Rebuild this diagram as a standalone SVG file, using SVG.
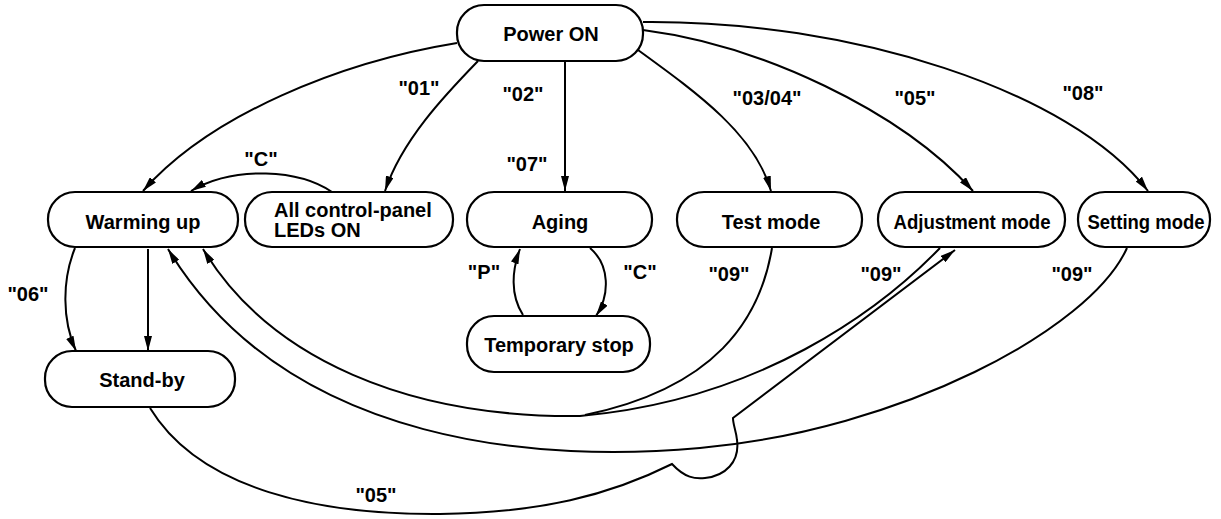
<svg xmlns="http://www.w3.org/2000/svg" width="1221" height="519" viewBox="0 0 1221 519">
<style>
.node rect{fill:#fff;stroke:#000;stroke-width:2.2}
.t{font-family:"Liberation Sans",Arial,sans-serif;font-weight:bold;font-size:20px;text-anchor:middle;fill:#000}
.l{font-family:"Liberation Sans",Arial,sans-serif;font-weight:bold;font-size:20px;text-anchor:middle;fill:#000}
#connectors path{fill:none;stroke:#000;stroke-width:2}
</style>
<defs>
<marker id="ah" viewBox="0 0 15 8" refX="15" refY="4" markerWidth="15" markerHeight="8" orient="auto" markerUnits="userSpaceOnUse"><path d="M0,0 L15,4 L0,8 z" fill="#000"/></marker>
</defs>
<rect width="1221" height="519" fill="#fff"/>
<g id="connectors">
<path d="M457 43 C340 62 210 115 143 191" marker-end="url(#ah)"/>
<path d="M478 61 C445 95 402 140 385 191" marker-end="url(#ah)"/>
<path d="M565 61 L565 191" marker-end="url(#ah)"/>
<path d="M638 50 C700 95 755 135 771 191" marker-end="url(#ah)"/>
<path d="M643 30 C760 45 900 110 973 191" marker-end="url(#ah)"/>
<path d="M643 22 C850 20 1070 90 1148 191" marker-end="url(#ah)"/>
<path d="M332 192 C300 170 235 165 191 191" marker-end="url(#ah)"/>
<path d="M148 249 L148 351" marker-end="url(#ah)"/>
<path d="M75 248 C62 280 62 320 76 351" marker-end="url(#ah)"/>
<path d="M523 315 C510 295 512 270 520 249" marker-end="url(#ah)"/>
<path d="M590 248 C610 265 610 295 596 316" marker-end="url(#ah)"/>
<path d="M772 248 C760 320 715 388 585 415"/>
<path d="M940 248 C880 310 760 400 580 416 C410 418 270 360 203 249" marker-end="url(#ah)"/>
<path d="M1127 248 C1090 330 900 430 700 448 C550 462 290 450 168 249" marker-end="url(#ah)"/>
<path d="M150 408 C200 490 320 515 440 514 C540 513 610 495 672 464 C685 478 695 479 705 478 C725 476 740 462 737 440 C736 430 733 425 733 418 L955 250" marker-end="url(#ah)"/>
</g>
<g id="labels">
<text class="l" x="419" y="95">"01"</text>
<text class="l" x="523" y="101">"02"</text>
<text class="l" x="767" y="105">"03/04"</text>
<text class="l" x="915" y="105">"05"</text>
<text class="l" x="1083" y="100">"08"</text>
<text class="l" x="527" y="171">"07"</text>
<text class="l" x="261" y="166">"C"</text>
<text class="l" x="484" y="279">"P"</text>
<text class="l" x="640" y="279">"C"</text>
<text class="l" x="729" y="281">"09"</text>
<text class="l" x="881" y="281">"09"</text>
<text class="l" x="1072" y="281">"09"</text>
<text class="l" x="28" y="301">"06"</text>
<text class="l" x="376" y="502">"05"</text>
</g>
<g id="power-on" class="node"><rect x="457" y="5" width="186" height="56" rx="27"/><text class="t" x="551" y="41">Power ON</text></g>
<g id="warming-up" class="node"><rect x="48" y="192" width="190" height="55" rx="27"/><text class="t" x="143" y="229">Warming up</text></g>
<g id="all-leds-on" class="node"><rect x="245" y="192" width="208" height="55" rx="27"/><text class="t" x="274" y="217" style="text-anchor:start">All control-panel</text><text class="t" x="274" y="237" style="text-anchor:start">LEDs ON</text></g>
<g id="aging" class="node"><rect x="467" y="192" width="185" height="55" rx="27"/><text class="t" x="560" y="229">Aging</text></g>
<g id="test-mode" class="node"><rect x="677" y="192" width="185" height="55" rx="27"/><text class="t" x="771" y="229">Test mode</text></g>
<g id="adjustment-mode" class="node"><rect x="878" y="192" width="187" height="55" rx="27"/><text class="t" x="972" y="229" textLength="157" lengthAdjust="spacingAndGlyphs">Adjustment mode</text></g>
<g id="setting-mode" class="node"><rect x="1078" y="192" width="132" height="55" rx="27"/><text class="t" x="1146" y="229" textLength="117" lengthAdjust="spacingAndGlyphs">Setting mode</text></g>
<g id="stand-by" class="node"><rect x="45" y="351" width="190" height="56" rx="27"/><text class="t" x="142" y="387">Stand-by</text></g>
<g id="temporary-stop" class="node"><rect x="467" y="316" width="183" height="56" rx="27"/><text class="t" x="559" y="352">Temporary stop</text></g>
</svg>
